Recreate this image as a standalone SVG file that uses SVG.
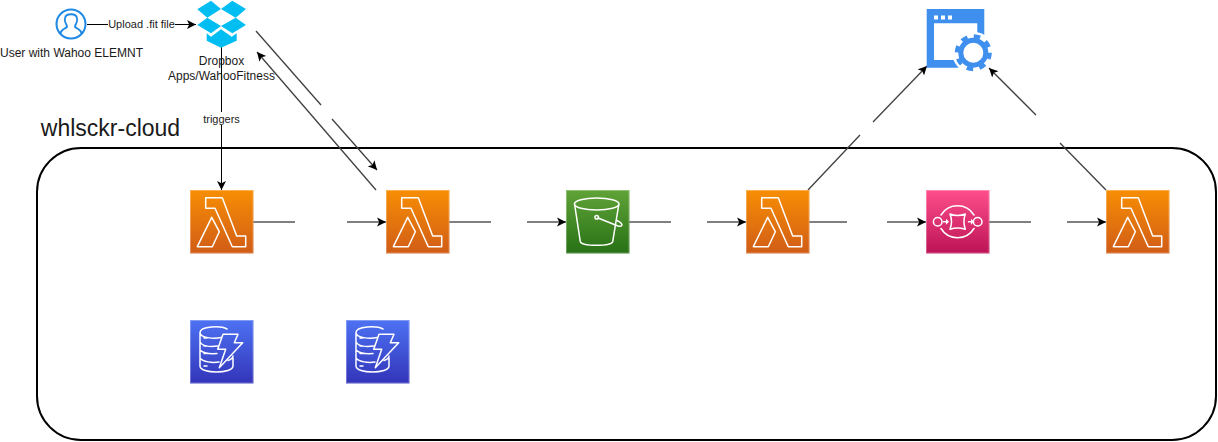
<svg xmlns="http://www.w3.org/2000/svg" xmlns:xlink="http://www.w3.org/1999/xlink" width="1218" height="442" viewBox="0 0 1218 442">
<style>
text{font-family:"Liberation Sans",Arial,sans-serif;fill:#1a1a1a;text-anchor:middle}
.s{font-size:12px}.t{font-size:11px}
.c line{stroke:#000;stroke-width:1;fill:none}
.c line.d{stroke:#404040;stroke-width:1.3}
.a{marker-end:url(#arr)}
.g{fill:none;stroke:#fff;stroke-width:1.5;stroke-linejoin:round;stroke-linecap:round}
.e{fill:none;stroke:#fff;stroke-opacity:.3;stroke-width:1}
</style>
<defs>
<marker id="arr" markerUnits="userSpaceOnUse" markerWidth="11" markerHeight="11" refX="9" refY="5" orient="auto"><path d="M9 5L0 0.500L2.200 5L0 9.500Z" fill="#000"/></marker>
<linearGradient id="lo" x1="0" y1="0" x2="0" y2="1"><stop offset="0" stop-color="#F78E04"/><stop offset="1" stop-color="#D05C17"/></linearGradient>
<linearGradient id="gr" x1="0" y1="0" x2="0" y2="1"><stop offset="0" stop-color="#60A337"/><stop offset="1" stop-color="#277116"/></linearGradient>
<linearGradient id="pk" x1="0" y1="0" x2="0" y2="1"><stop offset="0" stop-color="#FF4F8B"/><stop offset="1" stop-color="#BC1356"/></linearGradient>
<linearGradient id="bl" x1="0" y1="0" x2="0" y2="1"><stop offset="0" stop-color="#4D72F3"/><stop offset="1" stop-color="#3334B9"/></linearGradient>
<symbol id="lambda" width="64" height="64" viewBox="0 0 64 64" overflow="visible">
<rect width="63.500" height="63.500" fill="url(#lo)"/><rect x=".5" y=".5" width="62.500" height="62.500" class="e"/>
<path class="g" d="M15.700 7.700H32.300L46.700 46H55.700V56.700H42.300L25 18.300H15.700ZM21.700 27.300L7.300 56.700H22.300L29.300 41.700Z"/>
</symbol>
<symbol id="dynamo" width="64" height="64" viewBox="0 0 64 64" overflow="visible">
<rect width="63.500" height="63.500" fill="url(#bl)"/><rect x=".5" y=".5" width="62.500" height="62.500" class="e"/>
<path class="g" d="M37 9C31 5.500 10 6 10 12.500C10 18 24 19 31 17.500M10 12.500V46C10 54 43 54 43 46V38M10 22C12 26 20 27 28 26M10 30C13 33 20 34 27 33.500M10 38C13 42 22 43 29 42M10 37.500V39M38 40.500C41 39.500 43 38.500 43 36M14 18H17M14 26H17M14 33.500H17M14 46H17"/>
<path class="g" d="M33 14.300H48L44.300 22.700H52.700L29.300 47.700L35.700 29.300H27.700Z"/>
</symbol>
</defs>
<rect id="whlsckr-cloud-box" x="37" y="148" width="1179" height="292" rx="44" ry="44" fill="#fff" stroke="#000" stroke-width="2"/>
<g id="connectors" class="c">
<line x1="87" y1="24.500" x2="196" y2="24.500" class="a"/>
<line x1="221.500" y1="47" x2="221.500" y2="190" class="a"/>
<line x1="256" y1="31" x2="321" y2="105" class="d"/>
<line x1="332" y1="119" x2="377" y2="170" class="d a"/>
<line x1="376" y1="190" x2="257" y2="52" class="d a"/>
<line x1="253" y1="222" x2="295" y2="222"/>
<line x1="347" y1="222" x2="386" y2="222" class="a"/>
<line x1="449" y1="222" x2="491" y2="222"/>
<line x1="527" y1="222" x2="566" y2="222" class="a"/>
<line x1="629" y1="222" x2="671" y2="222"/>
<line x1="707" y1="222" x2="746" y2="222" class="a"/>
<line x1="809" y1="222" x2="847" y2="222"/>
<line x1="887" y1="222" x2="926" y2="222" class="a"/>
<line x1="989" y1="222" x2="1031" y2="222"/>
<line x1="1067" y1="222" x2="1106" y2="222" class="a"/>
<line x1="808" y1="190" x2="860" y2="135" class="d"/>
<line x1="873" y1="122" x2="927" y2="66" class="d a"/>
<line x1="1106" y1="190" x2="1060" y2="143" class="d"/>
<line x1="1036" y1="115" x2="989" y2="68" class="d a"/>
</g>
<g id="label-upload"><rect x="108" y="18" width="67" height="13" fill="#fff"/><text class="t" x="141.500" y="28">Upload .fit file</text></g>
<g id="label-triggers"><rect x="203" y="112" width="37" height="13" fill="#fff"/><text class="t" x="221.500" y="123">triggers</text></g>
<g id="user">
<circle cx="71" cy="24" r="14.500" fill="#fff" stroke="#1E88E5" stroke-width="2"/>
<path d="M60 34C61 29 65 29 67 27C67 26 67 25 66 24C65 22 64.500 20 65 18C66 13 76 13 77 18C77.500 20 77 22 76 24C75 25 75 26 75 27C77 29 81 29 82 34" fill="none" stroke="#1E88E5" stroke-width="1.800" stroke-linejoin="round"/>
<text class="s" x="71.500" y="57">User with Wahoo ELEMNT</text>
</g>
<g id="dropbox">
<path fill="#00BEF2" d="M197.300 9.300L211 .7L221 9L207.300 17.700ZM221 9L232.300 .7L246 9L235.700 17.700ZM197.300 25L207.300 17.700L221 26L211 33.300ZM221 26L235.700 17.700L246 25L232.300 33.300ZM221 29.300L231.700 36.700L236.700 33.300V40.700L221 47.700L206.700 40.700V33.300L211 36.700Z"/>
<text class="s" x="221.500" y="65">Dropbox</text>
<text class="s" x="221.500" y="80">Apps/WahooFitness</text>
</g>
<g id="lambda-1"><use xlink:href="#lambda" href="#lambda" x="190" y="190"/></g>
<g id="lambda-2"><use xlink:href="#lambda" href="#lambda" x="386" y="190"/></g>
<g id="s3">
<rect x="566" y="190" width="63.500" height="63.500" fill="url(#gr)"/><rect x="566.500" y="190.500" width="62.500" height="62.500" class="e"/>
<ellipse class="g" cx="596.700" cy="204" rx="22.300" ry="6"/>
<path class="g" d="M574.700 205L580.300 241.700C582 246.500 611 246.500 612.700 241.700L618.700 205"/>
<circle class="g" cx="596.700" cy="217.300" r="1.800"/>
<path class="g" d="M598 218L618 226C622 227 623 225 621 223C620 222 618 221 617 220.500"/>
</g>
<g id="lambda-3"><use xlink:href="#lambda" href="#lambda" x="746" y="190"/></g>
<g id="sqs">
<rect x="926" y="190" width="63.500" height="63.500" fill="url(#pk)"/><rect x="926.500" y="190.500" width="62.500" height="62.500" class="e"/>
<circle class="g" cx="937.700" cy="221.700" r="4.300"/><circle class="g" cx="977.700" cy="221.700" r="4.300"/>
<path class="g" d="M941 215A19.400 19.400 0 0 1 974 215M941 228.500A19.400 19.400 0 0 0 974 228.500"/>
<path class="g" d="M950 214C955 216 960 216 965.300 214C963.500 219 963.500 224 965.300 229.300C960 227.500 955 227.500 950 229.300C952 224 952 219 950 214Z"/>
<path class="g" d="M943.500 221.700H946.500M968.500 221.700H971.500"/>
<path fill="#fff" d="M946 218.700L949 221.700L946 224.700ZM971 218.700L974 221.700L971 224.700Z"/>
</g>
<g id="lambda-4"><use xlink:href="#lambda" href="#lambda" x="1106" y="190"/></g>
<g id="dynamodb-1"><use xlink:href="#dynamo" href="#dynamo" x="190" y="320"/></g>
<g id="dynamodb-2"><use xlink:href="#dynamo" href="#dynamo" x="346" y="320"/></g>
<g id="app-settings">
<path fill="#3F8FEF" fill-rule="evenodd" d="M926.700 9H984.300V67.700H926.700ZM934 23.300V60H977.300V23.300Z"/>
<rect x="934" y="15.500" width="4" height="4" fill="#fff"/><rect x="941" y="15.500" width="4" height="4" fill="#fff"/><rect x="948" y="15.500" width="4" height="4" fill="#fff"/>
<circle cx="973.300" cy="52.700" r="21" fill="#fff"/>
<circle cx="973.300" cy="52.700" r="12.500" fill="none" stroke="#3F8FEF" stroke-width="5"/>
<circle cx="973.300" cy="52.700" r="16.500" fill="none" stroke="#3F8FEF" stroke-width="4" stroke-dasharray="6.500 6.460"/>
</g>
<text id="title" x="110.500" y="135.500" style="font-size:23px">whlsckr-cloud</text>
</svg>
